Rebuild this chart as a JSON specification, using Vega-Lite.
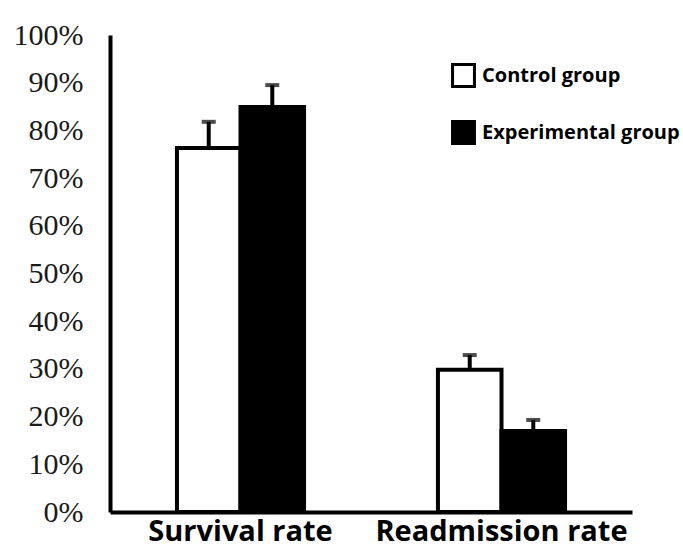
{
  "$schema": "https://vega.github.io/schema/vega-lite/v6.json",
  "width": 522,
  "height": 477,
  "autosize": {"type": "none"},
  "padding": {"left": 110, "top": 35, "right": 51, "bottom": 38},
  "background": "white",
  "config": {"view": {"stroke": null}},
  "data": {
    "values": [
      {"measure": "Survival rate", "group": "Control group", "value": 0.763, "upper": 0.818},
      {"measure": "Survival rate", "group": "Experimental group", "value": 0.849, "upper": 0.895},
      {"measure": "Readmission rate", "group": "Control group", "value": 0.298, "upper": 0.329},
      {"measure": "Readmission rate", "group": "Experimental group", "value": 0.170, "upper": 0.193}
    ]
  },
  "encoding": {
    "x": {
      "field": "measure",
      "type": "nominal",
      "sort": ["Survival rate", "Readmission rate"],
      "scale": {"paddingInner": 0.513, "paddingOuter": 0.2565},
      "axis": {
        "title": null,
        "labelAngle": 0,
        "ticks": false,
        "domainColor": "black",
        "domainWidth": 4,
        "labelFont": "Open Sans",
        "labelFontWeight": "bold",
        "labelFontSize": 29,
        "labelColor": "black",
        "labelPadding": 5,
        "labelLimit": 400,
        "labelOverlap": false
      }
    },
    "xOffset": {
      "field": "group",
      "type": "nominal",
      "sort": ["Control group", "Experimental group"],
      "scale": {"paddingInner": 0, "paddingOuter": 0}
    }
  },
  "layer": [
    {
      "mark": {"type": "rule", "stroke": "black", "strokeWidth": 4},
      "encoding": {
        "y": {"field": "value", "type": "quantitative"},
        "y2": {"field": "upper"}
      }
    },
    {
      "mark": {"type": "tick", "color": "black", "size": 14, "thickness": 4, "orient": "horizontal"},
      "encoding": {
        "y": {"field": "upper", "type": "quantitative"}
      }
    },
    {
      "mark": {"type": "bar", "stroke": "black", "strokeWidth": 4},
      "encoding": {
        "y": {
          "field": "value",
          "type": "quantitative",
          "scale": {"domain": [0, 1], "nice": false},
          "axis": {
            "title": null,
            "format": ".0%",
            "values": [0, 0.1, 0.2, 0.3, 0.4, 0.5, 0.6, 0.7, 0.8, 0.9, 1],
            "labelOverlap": false,
            "ticks": false,
            "grid": false,
            "domainColor": "black",
            "domainWidth": 4,
            "labelFont": "Liberation Serif",
            "labelFontSize": 30,
            "labelColor": "#1a1a1a",
            "labelPadding": 27
          }
        },
        "fill": {
          "field": "group",
          "type": "nominal",
          "scale": {"domain": ["Control group", "Experimental group"], "range": ["white", "black"]},
          "legend": {
            "title": null,
            "orient": "none",
            "legendX": 341,
            "legendY": 28,
            "symbolType": "square",
            "symbolSize": 480,
            "symbolStrokeColor": "black",
            "symbolStrokeWidth": 3,
            "labelFont": "Open Sans",
            "labelFontWeight": "bold",
            "labelFontSize": 20,
            "labelColor": "black",
            "labelOffset": 6,
            "rowPadding": 22,
            "labelLimit": 400
          }
        }
      }
    }
  ]
}
